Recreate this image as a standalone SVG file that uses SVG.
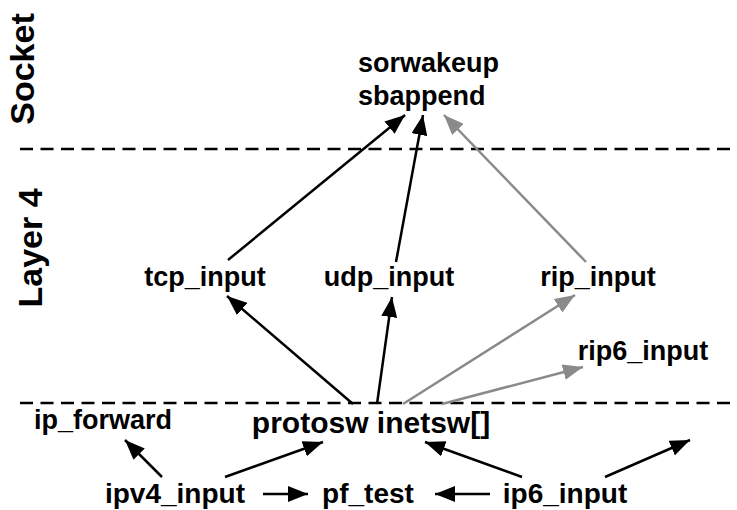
<svg xmlns="http://www.w3.org/2000/svg" width="737" height="510" viewBox="0 0 737 510">
<defs>
<style>
text{font-family:"Liberation Sans",Arial,sans-serif;font-weight:bold;fill:#000}
.n{font-size:27px}
.m{text-anchor:middle}
.layer{font-size:34px;text-anchor:middle}
.dash{stroke:#000;stroke-width:2.5;stroke-dasharray:13 7.5;fill:none}
.e{stroke:#000;stroke-width:2.5;fill:none;marker-end:url(#ah)}
.g{stroke:#8a8a8a;stroke-width:2.5;fill:none;marker-end:url(#ahg)}
</style>
<marker id="ah" markerUnits="userSpaceOnUse" markerWidth="21" markerHeight="16" refX="20" refY="8" orient="auto" viewBox="0 0 21 16"><path d="M0,0 L20,8 L0,16 z" fill="#000"/></marker>
<marker id="ahg" markerUnits="userSpaceOnUse" markerWidth="21" markerHeight="16" refX="20" refY="8" orient="auto" viewBox="0 0 21 16"><path d="M0,0 L20,8 L0,16 z" fill="#8a8a8a"/></marker>
</defs>
<rect width="737" height="510" fill="#fff"/>
<g id="layers">
<text class="layer" transform="translate(34,69) rotate(-90)">Socket</text>
<text class="layer" transform="translate(42,248) rotate(-90)">Layer 4</text>
<line class="dash" x1="20" y1="149" x2="737" y2="149"/>
<line class="dash" x1="20" y1="403" x2="737" y2="403"/>
</g>
<g id="connectors">
<line class="e" x1="228" y1="260" x2="405" y2="115"/>
<line class="e" x1="396" y1="262" x2="423" y2="115"/>
<line class="g" x1="586" y1="262" x2="444" y2="115"/>
<line class="e" x1="353" y1="404" x2="227" y2="296"/>
<line class="e" x1="377" y1="404" x2="392" y2="297"/>
<line class="g" x1="403" y1="404" x2="575" y2="295"/>
<line class="g" x1="442" y1="404" x2="583" y2="367"/>
<line class="e" x1="162" y1="477" x2="125" y2="440"/>
<line class="e" x1="225" y1="477" x2="323" y2="442"/>
<line class="e" x1="263" y1="494" x2="308" y2="494"/>
<line class="e" x1="490" y1="494" x2="435" y2="494"/>
<line class="e" x1="522" y1="477" x2="425" y2="442"/>
<line class="e" x1="605" y1="477" x2="690" y2="440"/>
</g>
<g id="sock"><text class="n" x="358" y="72">sorwakeup</text><text class="n" x="358" y="105">sbappend</text></g>
<g id="tcp"><text class="n m" x="205" y="286">tcp_input</text></g>
<g id="udp"><text class="n m" x="389" y="286">udp_input</text></g>
<g id="rip"><text class="n m" x="598" y="286">rip_input</text></g>
<g id="rip6"><text class="n m" x="643" y="360">rip6_input</text></g>
<g id="ipfwd"><text class="n m" x="103" y="429">ip_forward</text></g>
<g id="protosw"><text class="m" style="font-size:30px" x="371" y="433">protosw inetsw[]</text></g>
<g id="ipv4"><text class="n m" style="font-size:28px" x="175" y="503">ipv4_input</text></g>
<g id="pftest"><text class="n m" style="font-size:28px" x="368" y="503">pf_test</text></g>
<g id="ip6"><text class="n m" style="font-size:28px" x="565" y="503">ip6_input</text></g>
</svg>
